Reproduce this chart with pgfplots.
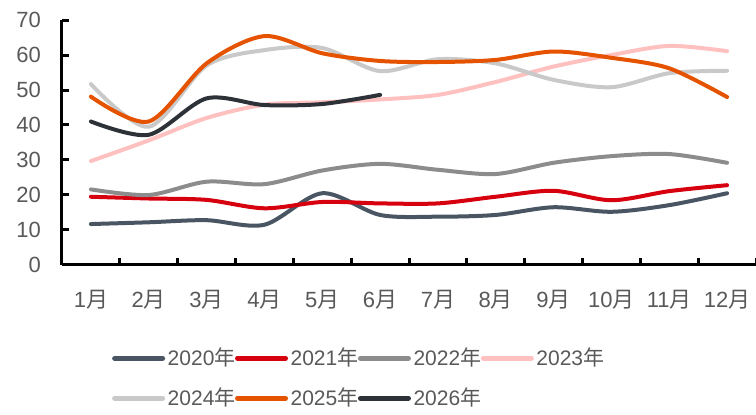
\documentclass[border=0pt]{standalone}
\usepackage{pgfplots}
\pgfplotsset{compat=1.18}
\usepackage{fontspec}
\setmainfont{Liberation Sans}
\newfontfamily\cjk{Noto Sans CJK SC}
\definecolor{c20}{HTML}{4A5563}
\definecolor{c21}{HTML}{D7000F}
\definecolor{c22}{HTML}{8C8C8C}
\definecolor{c23}{HTML}{FFC0C0}
\definecolor{c24}{HTML}{C8C9C8}
\definecolor{c25}{HTML}{E55300}
\definecolor{c26}{HTML}{2D3239}
\definecolor{txt}{HTML}{595959}
\begin{document}
\begin{tikzpicture}
\begin{axis}[
  scale only axis,
  width=347pt, height=122.5pt,
  xmin=0.5, xmax=12.5, ymin=0, ymax=70,
  axis lines=left,
  axis line style={line width=1.5pt, -},
  xtick={0.5,1.5,...,12.5},
  xticklabels={1{\cjk 月},2{\cjk 月},3{\cjk 月},4{\cjk 月},5{\cjk 月},6{\cjk 月},7{\cjk 月},8{\cjk 月},9{\cjk 月},10{\cjk 月},11{\cjk 月},12{\cjk 月}},
  x tick label as interval,
  ytick={0,10,...,70},
  tick style={line width=1.5pt, black},
  major tick length=3.5pt,
  tick align=inside,
  tick label style={font=\fontsize{11}{13}\selectfont, text=txt},
  /pgf/number format/assume math mode=true,
  xticklabel style={yshift=-9pt},
  yticklabel style={xshift=-7pt},
  every axis plot/.append style={line width=2pt, smooth, tension=0.5, no markers, line cap=round},
  legend style={draw=none, fill=none, at={(0.063,-0.31)}, anchor=north west,
    font=\fontsize{10.5}{13}\selectfont, text=txt, column sep=0pt, row sep=7pt,
    nodes={inner sep=1.3pt},
    /tikz/every even column/.append style={column sep=-1.5pt}},
  legend columns=4,
  legend image code/.code={\draw[#1, line width=2.5pt, line cap=round] (0pt,0pt) -- (24pt,0pt);},
  clip=false,
]
\addplot[c20] coordinates {(1,11.7)(2,12.2)(3,12.8)(4,11.5)(5,20.5)(6,14.3)(7,13.8)(8,14.3)(9,16.5)(10,15.2)(11,17.1)(12,20.5)};
\addlegendentry{2020{\cjk 年}}
\addplot[c21] coordinates {(1,19.5)(2,19.0)(3,18.6)(4,16.2)(5,18.0)(6,17.6)(7,17.6)(8,19.5)(9,21.2)(10,18.5)(11,21.1)(12,22.8)};
\addlegendentry{2021{\cjk 年}}
\addplot[c22] coordinates {(1,21.6)(2,20.0)(3,23.8)(4,23.1)(5,27.0)(6,28.9)(7,27.2)(8,26.0)(9,29.2)(10,31.1)(11,31.7)(12,29.2)};
\addlegendentry{2022{\cjk 年}}
\addplot[c23] coordinates {(1,29.7)(2,35.6)(3,42.0)(4,45.8)(5,46.5)(6,47.3)(7,48.6)(8,52.3)(9,56.7)(10,60.0)(11,62.6)(12,61.1)};
\addlegendentry{2023{\cjk 年}}
\addplot[c24] coordinates {(1,51.7)(2,39.5)(3,57.0)(4,61.4)(5,62.0)(6,55.4)(7,58.8)(8,57.6)(9,52.9)(10,50.8)(11,54.8)(12,55.5)};
\addlegendentry{2024{\cjk 年}}
\addplot[c25] coordinates {(1,48.1)(2,41.0)(3,57.6)(4,65.4)(5,60.5)(6,58.3)(7,58.0)(8,58.6)(9,61.0)(10,59.2)(11,56.2)(12,48.0)};
\addlegendentry{2025{\cjk 年}}
\addplot[c26] coordinates {(1,41.0)(2,37.2)(3,47.6)(4,45.7)(5,46.0)(6,48.6)};
\addlegendentry{2026{\cjk 年}}
\coordinate (bl) at (rel axis cs:0,0);
\coordinate (tr) at (rel axis cs:1,1);
\end{axis}
\pgfresetboundingbox
\path[use as bounding box] ([xshift=-31pt,yshift=-75pt]bl) rectangle ([yshift=10pt]tr);
\end{tikzpicture}
\end{document}
